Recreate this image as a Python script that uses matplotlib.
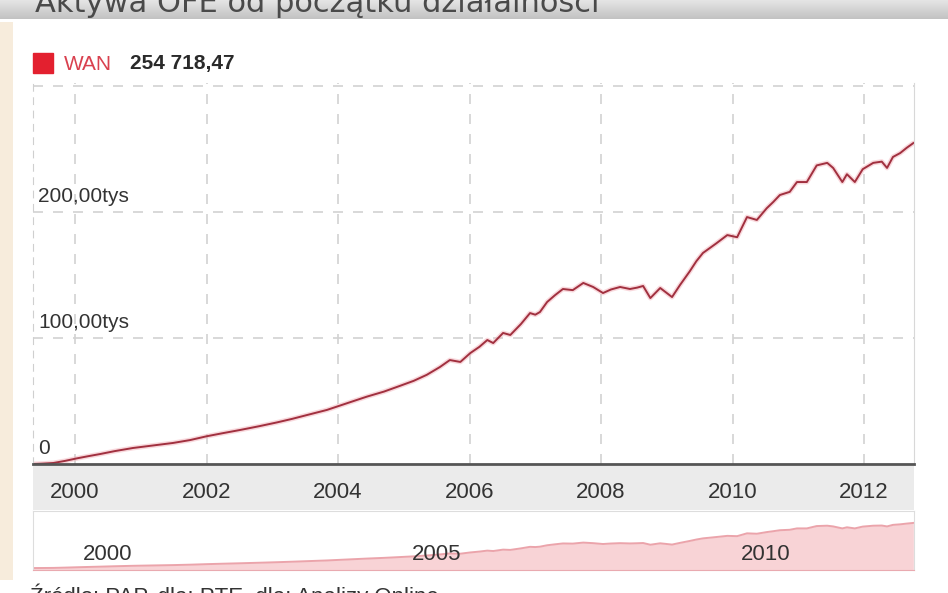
import matplotlib
matplotlib.use("Agg")
import matplotlib.pyplot as plt
import matplotlib.transforms as mtransforms
import numpy as np

# Aktywa OFE (mln zł)
years = [1999.36, 1999.5, 1999.67, 1999.85, 2000.03, 2000.2, 2000.38, 2000.6, 2000.88,
         2001.2, 2001.49, 2001.75, 2002.0, 2002.25, 2002.51, 2002.8, 2003.07, 2003.3,
         2003.53, 2003.83, 2004.18, 2004.44, 2004.7, 2004.94, 2005.15, 2005.35, 2005.55,
         2005.7, 2005.86, 2006.01, 2006.15, 2006.27, 2006.36, 2006.51, 2006.62, 2006.78,
         2006.92, 2007.0, 2007.07, 2007.18, 2007.3, 2007.42, 2007.57, 2007.73, 2007.88,
         2008.03, 2008.15, 2008.29, 2008.44, 2008.55, 2008.64, 2008.75, 2008.9, 2009.08,
         2009.2, 2009.35, 2009.45, 2009.55, 2009.75, 2009.92, 2010.07, 2010.22, 2010.37,
         2010.52, 2010.62, 2010.72, 2010.87, 2010.98, 2011.13, 2011.28, 2011.44, 2011.53,
         2011.67, 2011.74, 2011.86, 2011.98, 2012.14, 2012.27, 2012.35, 2012.44, 2012.55,
         2012.65, 2012.75]
assets = [0, 300, 800, 2500, 4500, 6200, 7900, 10200, 12700,
          14800, 16700, 19000, 22000, 24500, 27000, 30000, 33000, 35800,
          38900, 42900, 49000, 53500, 57500, 62000, 66000, 70800, 77000,
          82500, 81000, 88000, 93000, 98400, 96000, 104000, 102400, 111000,
          119800, 118500, 120600, 128600, 134000, 138900, 138000, 143700, 140500,
          135700, 138500, 140500, 138900, 140000, 141300, 131700, 139700, 132500,
          142000, 153000, 161000, 167500, 175000, 181700, 180000, 196000, 193700,
          203000, 208000, 213500, 216000, 223800, 223800, 237000, 239000, 235000,
          223800, 230000, 223800, 234000, 239000, 240000, 235000, 243700, 246800,
          251000, 254718.47]

x_ticks = [2000, 2002, 2004, 2006, 2008, 2010, 2012]
y_ticks = [0, 100000, 200000]
nav_ticks = [2000, 2005, 2010]

title = "Aktywa OFE od początku działalności"
series_name = "WAN"
last_value = "254 718,47"
source = "Źródło: PAP, dla: PTE, dla: Analizy Online"

W, H = 948, 593
fig = plt.figure(figsize=(W / 100, H / 100), dpi=100)
fig.patch.set_facecolor("white")
font = ["Liberation Sans", "DejaVu Sans"]


def box(x0, y0, x1, y1):
    # pixel box (top-left origin) -> figure rect
    return [x0 / W, 1 - y1 / H, (x1 - x0) / W, (y1 - y0) / H]


# header bar with gradient (the screenshot cuts its title in half)
hdr = fig.add_axes(box(0, 0, W, 19))
grad = np.linspace(0.90, 0.76, 50).reshape(-1, 1)
hdr.imshow(np.dstack([grad, grad, grad]), aspect="auto", extent=[0, 1, 0, 1])
hdr.set_axis_off()
fig.text(35 / W, 1 - 12 / H, title, fontsize=22, color="#4a4a4a",
         family=["DejaVu Sans"], va="baseline", ha="left", zorder=5)

# beige strip on the left
strip = fig.add_axes(box(0, 22, 13, 580))
strip.set_facecolor("#f7ecdc")
strip.set_xticks([])
strip.set_yticks([])
for s in strip.spines.values():
    s.set_visible(False)

# legend
fig.patches.append(plt.Rectangle((33 / W, 1 - 73 / H), 20 / W, 20 / H,
                                 transform=fig.transFigure, color="#e3202f"))
fig.text(64 / W, 1 - 64 / H, series_name, fontsize=15, color="#d9414f",
         family=font, va="center", ha="left")
fig.text(130 / W, 1 - 64 / H, last_value, fontsize=15, color="#2a2a2a",
         family=font, weight="bold", va="center", ha="left")

# grey band behind x labels
band = fig.add_axes(box(33, 466, 914, 510))
band.set_facecolor("#ebebeb")
band.set_xticks([])
band.set_yticks([])
for s in band.spines.values():
    s.set_visible(False)

# main chart
ax = fig.add_axes(box(33, 83, 914, 464))
xmin, xmax = 1999.36, 2012.76
ax.set_xlim(xmin, xmax)
ax.set_ylim(0, 302400)
ax.plot(years, assets, color="#f3b3bb", lw=3.5, alpha=0.5, solid_capstyle="round")
ax.plot(years, assets, color="#a1303f", lw=1.4)
ax.set_xticks(x_ticks)
ax.set_yticks(y_ticks[1:] + [300000])
ax.grid(True, color="#d2d2d2", lw=1.2, linestyle=(0, (6, 6)))
ax.tick_params(length=0, labelbottom=False, labelleft=False)
ax.spines["bottom"].set_color("#555555")
ax.spines["bottom"].set_linewidth(2)
ax.spines["top"].set_visible(False)
ax.spines["left"].set_color("#cfcfcf")
ax.spines["left"].set_linestyle((0, (6, 6)))
ax.spines["right"].set_color("#d8d8d8")

ytrans = mtransforms.blended_transform_factory(ax.transAxes, ax.transData)
for v in y_ticks:
    lab = "0" if v == 0 else f"{v / 1000:.2f}".replace(".", ",") + "tys"
    ax.text(0.006, v, lab, transform=ytrans + mtransforms.ScaledTranslation(0, 7 / 72, fig.dpi_scale_trans),
            fontsize=15, color="#333333", family=font, va="baseline", ha="left")

xtrans = mtransforms.blended_transform_factory(ax.transData, fig.transFigure)
for yr in x_ticks:
    fig.text(yr, 1 - 498 / H, str(yr), transform=xtrans, fontsize=16,
             color="#333333", family=font, ha="center", va="baseline")

# navigator
nav = fig.add_axes(box(33, 511, 914, 570))
nav.set_xlim(xmin, xmax)
nav.set_ylim(-11000, 322000)
nav.fill_between(years, assets, -11000, color="#f8d3d6", lw=0)
nav.plot(years, assets, color="#eba4ab", lw=1.4)
nav.set_xticks([])
nav.set_yticks([])
for s in nav.spines.values():
    s.set_color("#dddddd")
nav.spines["bottom"].set_color("#e9aab0")
ntrans = mtransforms.blended_transform_factory(nav.transData, fig.transFigure)
for yr in nav_ticks:
    nav.text(yr, 1 - 560 / H, str(yr),
             transform=ntrans + mtransforms.ScaledTranslation(8 / 100, 0, fig.dpi_scale_trans),
             fontsize=16, color="#333333", family=font, ha="left", va="baseline")

# source line, cut off by the bottom edge as in the screenshot
fig.text(30 / W, 1 - 584 / H, source, fontsize=16, color="#333333",
         family=font, va="top", ha="left")

fig.savefig("out.png", dpi=100)
